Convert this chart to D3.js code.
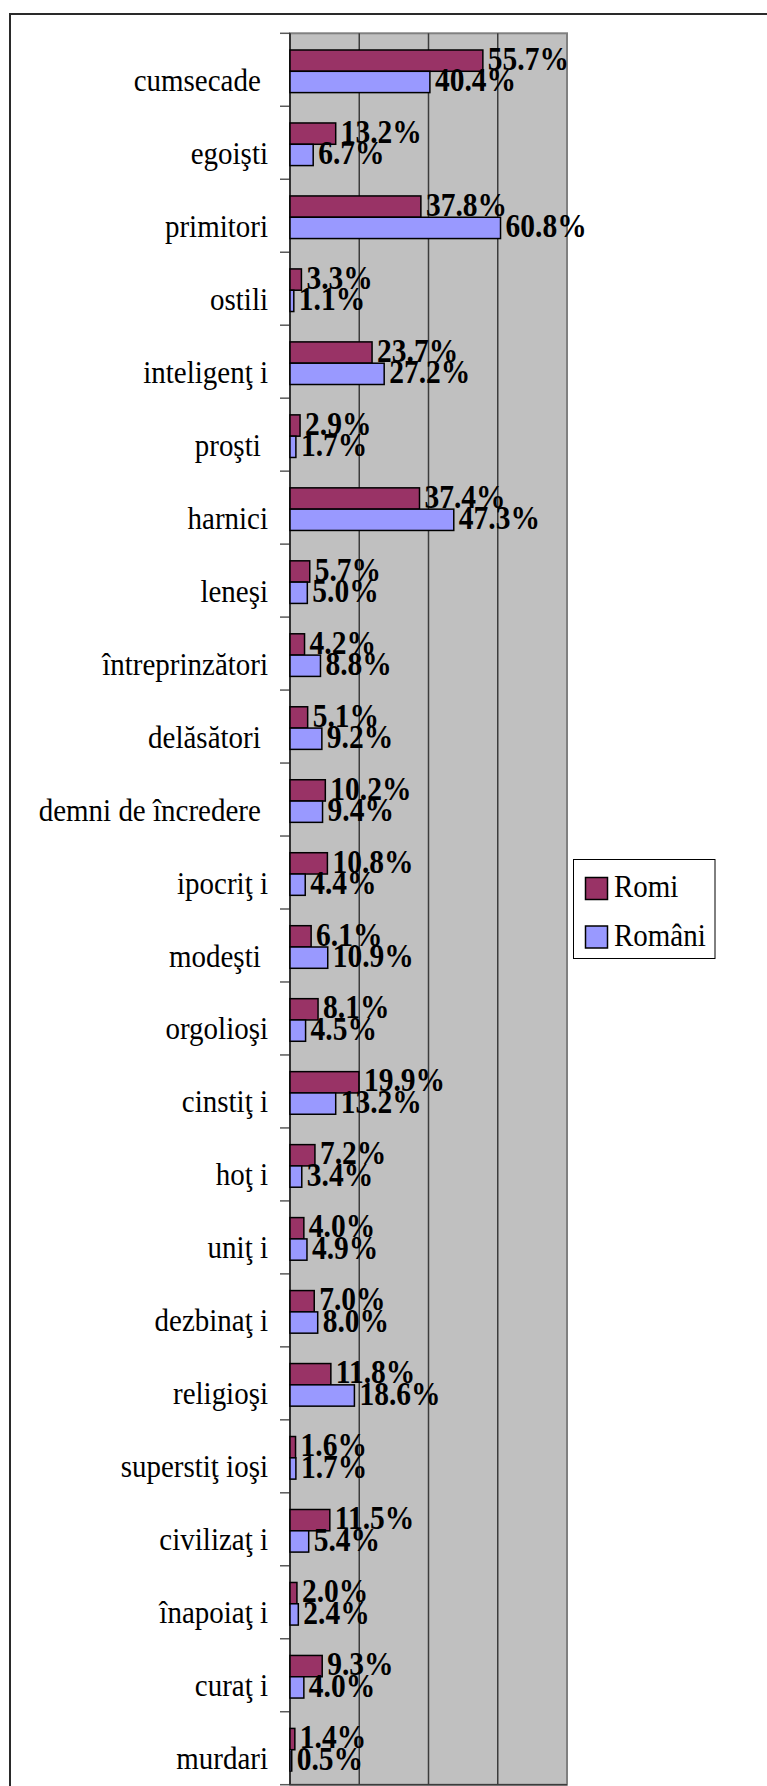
<!DOCTYPE html>
<html>
<head>
<meta charset="utf-8">
<script src="https://cdn.jsdelivr.net/npm/d3@7"></script>
<style>
  html, body { margin: 0; padding: 0; background: #fff; }
  svg { display: block; }
  text { font-family: "Liberation Serif", "Times New Roman", serif; white-space: pre; }
</style>
</head>
<body>
<svg id="chart" width="767" height="1786"></svg>
<script>
// Traits attributed to Roma ("Romi") and Romanians ("Români"), share of respondents (%)
const categories = [
  "cumsecade ", "egoişti", "primitori", "ostili", "inteligenţ i", "proşti ",
  "harnici", "leneşi", "întreprinzători", "delăsători ", "demni de încredere ",
  "ipocriţ i", "modeşti ", "orgolioşi", "cinstiţ i", "hoţ i", "uniţ i",
  "dezbinaţ i", "religioşi", "superstiţ ioşi", "civilizaţ i", "înapoiaţ i",
  "curaţ i", "murdari"
];
const seriesNames = ["Romi", "Români"];
const romiValues = [55.7, 13.2, 37.8, 3.3, 23.7, 2.9, 37.4, 5.7, 4.2, 5.1, 10.2,
  10.8, 6.1, 8.1, 19.9, 7.2, 4.0, 7.0, 11.8, 1.6, 11.5, 2.0, 9.3, 1.4];
const romaniValues = [40.4, 6.7, 60.8, 1.1, 27.2, 1.7, 47.3, 5.0, 8.8, 9.2, 9.4,
  4.4, 10.9, 4.5, 13.2, 3.4, 4.9, 8.0, 18.6, 1.7, 5.4, 2.4, 4.0, 0.5];
const gridTicks = [20, 40, 60];
const seriesColors = ["#993366", "#9999ff"];

// Type in this chart is set slightly tall and narrow
const TEXT_STRETCH = 1.12;
const place = (tx, ty) => `translate(${tx},${ty}) scale(1,${TEXT_STRETCH})`;

const svg = d3.select("#chart");

// Outer chart frame (continues past the right and bottom edges)
svg.append("rect")
  .attr("x", 10).attr("y", 14)
  .attr("width", 800).attr("height", 1800)
  .attr("fill", "#fff")
  .attr("stroke", "#2a2a2a")
  .attr("stroke-width", 2);

const plot = { left: 290, right: 567, top: 33.3, bottom: 1784.7 };

const x = d3.scaleLinear().domain([0, 80]).range([plot.left, plot.right]);
const y = d3.scaleBand().domain(categories).range([plot.top, plot.bottom]).padding(0);
const sub = d3.scaleBand().domain(seriesNames).range([16.7, 59.3]).padding(0);

// Plot area
svg.append("rect")
  .attr("x", plot.left).attr("y", plot.top)
  .attr("width", plot.right - plot.left).attr("height", plot.bottom - plot.top)
  .attr("fill", "#c0c0c0")
  .attr("stroke", "#808080")
  .attr("stroke-width", 2);

// Vertical gridlines
svg.append("g").selectAll("line")
  .data(gridTicks)
  .join("line")
  .attr("x1", d => x(d)).attr("x2", d => x(d))
  .attr("y1", plot.top).attr("y2", plot.bottom)
  .attr("stroke", "#3c3c3c")
  .attr("stroke-width", 1.5);

// Category axis: line plus tick marks at band boundaries
const boundaries = categories.map(c => y(c)).concat([plot.bottom]);
svg.append("g").selectAll("line")
  .data(boundaries)
  .join("line")
  .attr("x1", plot.left - 10).attr("x2", plot.left)
  .attr("y1", d => d).attr("y2", d => d)
  .attr("stroke", "#5a5a5a")
  .attr("stroke-width", 1.5);

svg.append("line")
  .attr("x1", plot.left).attr("x2", plot.left)
  .attr("y1", plot.top).attr("y2", plot.bottom)
  .attr("stroke", "#1a1a1a")
  .attr("stroke-width", 1.5);

svg.append("line")
  .attr("x1", plot.left).attr("x2", plot.right)
  .attr("y1", plot.bottom).attr("y2", plot.bottom)
  .attr("stroke", "#3c3c3c")
  .attr("stroke-width", 1.5);

// Category labels
svg.append("g").selectAll("text")
  .data(categories)
  .join("text")
  .attr("transform", d => place(268, y(d) + 57.5))
  .attr("text-anchor", "end")
  .attr("font-size", 29)
  .attr("fill", "#000")
  .text(d => d);

// Bars
const rows = categories.map((c, i) => ({
  category: c,
  values: [
    { series: seriesNames[0], value: romiValues[i], color: seriesColors[0] },
    { series: seriesNames[1], value: romaniValues[i], color: seriesColors[1] }
  ]
}));

const groups = svg.append("g").selectAll("g")
  .data(rows)
  .join("g")
  .attr("transform", d => `translate(0,${y(d.category)})`);

groups.selectAll("rect")
  .data(d => d.values)
  .join("rect")
  .attr("x", x(0))
  .attr("y", d => sub(d.series))
  .attr("width", d => x(d.value) - x(0))
  .attr("height", sub.bandwidth())
  .attr("fill", d => d.color)
  .attr("stroke", "#000")
  .attr("stroke-width", 1.5);

// Value labels
groups.selectAll("text")
  .data(d => d.values)
  .join("text")
  .attr("transform", d => place(x(d.value) + 5, sub(d.series) + sub.bandwidth() - 1.5))
  .attr("font-size", 29.5)
  .attr("font-weight", "bold")
  .attr("fill", "#000")
  .text(d => d.value.toFixed(1) + "%");

// Legend
const legend = svg.append("g").attr("transform", "translate(573.5,859.5)");
legend.append("rect")
  .attr("width", 141.5).attr("height", 99)
  .attr("fill", "#fff")
  .attr("stroke", "#000")
  .attr("stroke-width", 1);

const items = legend.selectAll("g")
  .data(seriesNames)
  .join("g")
  .attr("transform", (d, i) => `translate(12,${18 + i * 48.5})`);

items.append("rect")
  .attr("width", 22).attr("height", 22)
  .attr("fill", (d, i) => seriesColors[i])
  .attr("stroke", "#000")
  .attr("stroke-width", 1.5);

items.append("text")
  .attr("transform", place(28.5, 19.5))
  .attr("font-size", 29)
  .attr("fill", "#000")
  .text(d => d);
</script>
</body>
</html>
